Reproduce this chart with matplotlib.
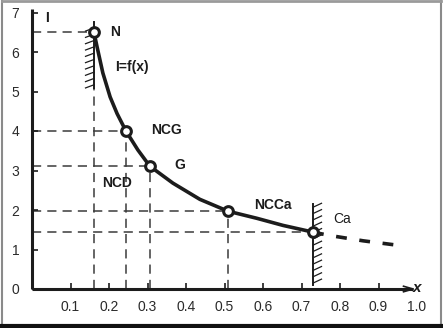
import numpy as np
import matplotlib
matplotlib.use("Agg")
import matplotlib.pyplot as plt
from matplotlib.lines import Line2D

plt.rcParams['font.family'] = ['Liberation Sans', 'DejaVu Sans']

# 곡선 위의 읽은 점들 (x, I)
curve_x = [0.161, 0.169, 0.184, 0.203, 0.221, 0.244, 0.275, 0.306, 0.366, 0.436, 0.509, 0.584, 0.652, 0.730]
curve_i = [6.50, 6.13, 5.47, 4.86, 4.44, 4.00, 3.52, 3.11, 2.68, 2.27, 1.97, 1.79, 1.61, 1.44]

# 점선 연장 부분 (Ca 이후)
ext_x = [0.730, 0.77, 0.86, 0.956]
ext_i = [1.44, 1.36, 1.22, 1.10]

# 특성 점
point_names = ["N", "NCG", "G", "NCCa", "Ca"]
point_x = [0.161, 0.244, 0.306, 0.509, 0.730]
point_i = [6.50, 4.00, 3.11, 1.97, 1.44]

x_ticks = [0.1, 0.2, 0.3, 0.4, 0.5, 0.6, 0.7, 0.8, 0.9]
x_labels = ["0.1", "0.2", "0.3", "0.4", "0.5", "0.6", "0.7", "0.8", "0.9", "1.0"]
y_ticks = [0, 1, 2, 3, 4, 5, 6, 7]

INK = '#1c1c1c'
DASH = '#3a3a3a'

fig = plt.figure(figsize=(4.43, 3.28), dpi=100)
ax = fig.add_axes([32 / 443, 39 / 328, 385 / 443, 276.5 / 328])
ax.set_xlim(0, 1.0)
ax.set_ylim(0, 7.0)
for s in ax.spines.values():
    s.set_visible(False)

# 축 선
ax.plot([0, 0.99], [0, 0], color=INK, lw=2.2, clip_on=False, solid_capstyle='butt')
ax.plot([0, 0], [0, 7.1], color=INK, lw=2.2, clip_on=False, solid_capstyle='butt')
ax.plot([0.965, 0.99, 0.965], [0.07, 0, -0.07], color=INK, lw=1.2, clip_on=False)

# 눈금
ax.set_xticks(x_ticks + [1.0])
ax.set_xticklabels(x_labels, fontsize=10, color='#2a2a2a')
ax.set_yticks(y_ticks)
ax.set_yticklabels([str(v) for v in y_ticks], fontsize=10, color='#2a2a2a')
ax.tick_params(axis='x', direction='in', length=4, width=1.2, pad=8, colors=INK, labelcolor='#2a2a2a')
ax.tick_params(axis='y', direction='in', length=4, width=1.2, pad=9, colors=INK, labelcolor='#2a2a2a')
ax.xaxis.get_major_ticks()[-1].tick1line.set_visible(False)

# 보조 점선
dash_kw = dict(color=DASH, lw=1.1, dashes=(6, 4), zorder=1)
for px, pi, name in zip(point_x, point_i, point_names):
    ax.plot([0, px], [pi, pi], **dash_kw)
    if name != "Ca":
        top = pi if name != "N" else 5.1
        ax.plot([px, px], [0, top], **dash_kw)

# N, Ca 빗금 선
nx = point_x[0]
ax.plot([nx, nx], [5.1, 6.75], color=INK, lw=1.4, zorder=2)
for yy in np.arange(5.15, 6.7, 0.16):
    ax.plot([nx - 0.022, nx], [yy - 0.06, yy + 0.02], color=INK, lw=0.9, zorder=2)
cx = point_x[-1]
ax.plot([cx, cx], [0.1, 2.15], color=INK, lw=1.4, zorder=2)
for yy in np.arange(0.15, 2.1, 0.16):
    ax.plot([cx, cx + 0.022], [yy, yy + 0.1], color=INK, lw=0.9, zorder=2)

# 곡선
ax.plot(curve_x, curve_i, color=INK, lw=2.6, zorder=3, solid_capstyle='round', solid_joinstyle='round')
ax.plot(ext_x, ext_i, color=INK, lw=2.6, dashes=(3, 3.5), zorder=3)
ax.plot(point_x, point_i, 'o', ms=7, mfc='white', mec=INK, mew=2.2, zorder=4)

# 텍스트
lab = dict(fontsize=10, fontweight='bold', color=INK)
ax.text(0.216, 6.5, "N", ha='center', va='center', **lab)
ax.text(0.26, 5.62, "I=f(x)", ha='center', va='center', **lab)
ax.text(0.35, 4.03, "NCG", ha='center', va='center', **lab)
ax.text(0.384, 3.14, "G", ha='center', va='center', **lab)
ax.text(0.221, 2.68, "NCD", ha='center', va='center', **lab)
ax.text(0.626, 2.13, "NCCa", ha='center', va='center', **lab)
ax.text(0.805, 1.77, "Ca", ha='center', va='center', fontsize=10, color=INK)
ax.text(0.039, 6.86, "I", ha='center', va='center', **lab)
ax.text(1.0, 0.03, "x", ha='center', va='center', fontsize=11, fontweight='bold',
        fontstyle='italic', color=INK)

# 그림 테두리
fig.add_artist(Line2D([0.004, 0.004], [0.01, 0.997], transform=fig.transFigure, color='#8a8a8a', lw=1.5))
fig.add_artist(Line2D([0.996, 0.996], [0.01, 0.997], transform=fig.transFigure, color='#8a8a8a', lw=1.5))
fig.add_artist(Line2D([0.004, 0.996], [0.997, 0.997], transform=fig.transFigure, color='#9a9a9a', lw=2))
fig.add_artist(Line2D([0.0, 1.0], [0.006, 0.006], transform=fig.transFigure, color='#111111', lw=3))

fig.savefig("out.png", dpi=100)
